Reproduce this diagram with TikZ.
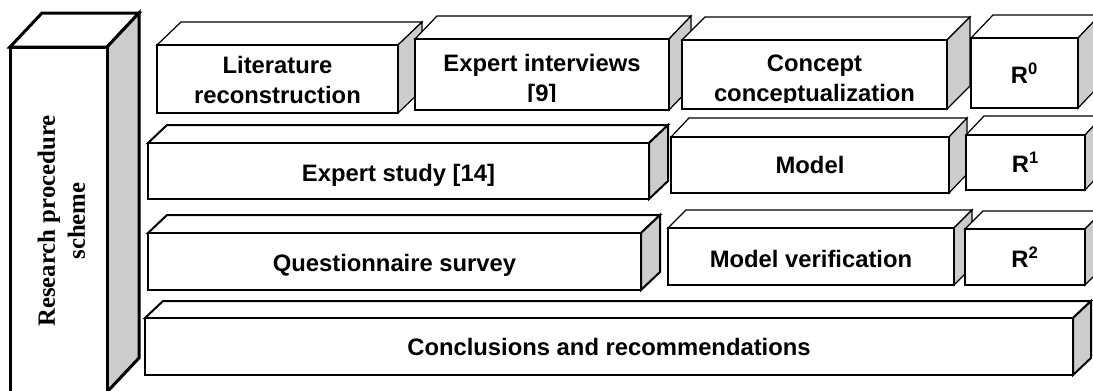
\documentclass[tikz,border=0pt]{standalone}
\usepackage{fontspec}
\setmainfont{Liberation Serif}
\setsansfont{Liberation Sans}
\usepackage{tikz}
\usetikzlibrary{positioning}
\definecolor{sidegray}{rgb}{0.8,0.8,0.8}

% #1 style, #2 left, #3 top, #4 right, #5 bottom, #6 depth x, #7 depth y
\newcommand{\slab}[7]{%
  \draw[#1, fill=white] (#2,#3) -- ++(#6,-#7) -- (#4+#6,#3-#7) -- (#4,#3) -- cycle;
  \draw[#1, fill=sidegray] (#4,#3) -- (#4+#6,#3-#7) -- (#4+#6,#5-#7) -- (#4,#5) -- cycle;
  \draw[#1, fill=white] (#2,#3) rectangle (#4,#5);
}

\begin{document}
\begin{tikzpicture}[x=0.75pt, y=-0.75pt,
    boxthin/.style={line width=0.9pt},
    boxthick/.style={line width=1.5pt},
    boxheavy/.style={line width=2.25pt},
    lbl/.style={font=\sffamily\bfseries\fontsize{17.85}{22.5}\selectfont, align=center}]
  \clip (0,0) rectangle (1093,390);

  % left pillar
  \slab{boxheavy}{10}{47}{107}{392}{32}{34}
  \node (scheme) at (61.5,221) [rotate=90, align=center,
        font=\rmfamily\bfseries\fontsize{18.6}{22.5}\selectfont]
        {Research procedure\\scheme};

  % row 1
  \slab{boxthin}{157}{45}{398}{113}{24}{23}
  \slab{boxthin}{415}{39}{669}{110}{22}{23}
  \slab{boxthin}{682}{40}{947}{109}{23}{23}
  \slab{boxthin}{971}{38}{1078}{108}{22}{23}
  \node (lit) at (277.5,80) [lbl] {Literature\\reconstruction};
  \begin{scope}
    \clip (415,39) rectangle (669,101.5);
    \node (interviews) at (542,80.5) [lbl] {Expert interviews\\{[9]}};
  \end{scope}
  \begin{scope}
    \clip (682,40) rectangle (947,102);
    \node (concept) at (814.5,80.5) [lbl] {Concept\\conceptualization};
  \end{scope}
  \node (r0) at (1024.5,83) [lbl, anchor=base] {R\textsuperscript{0}};

  % row 2
  \slab{boxthick}{148}{143}{649}{199}{19}{18}
  \slab{boxthin}{671}{137}{949}{193}{18}{19}
  \slab{boxthin}{966}{135}{1085}{190}{18}{19}
  \node (study) at (398.5,181) [lbl, anchor=base] {Expert study [14]};
  \node (model) at (810,173) [lbl, anchor=base] {Model};
  \node (r1) at (1025.5,172) [lbl, anchor=base] {R\textsuperscript{1}};

  % row 3
  \slab{boxthick}{148}{233}{641}{290}{19}{18}
  \slab{boxthin}{668}{228}{954}{285}{18}{18}
  \slab{boxthin}{965}{229}{1085}{285}{18}{18}
  \node (survey) at (394.5,271) [lbl, anchor=base] {Questionnaire survey};
  \node (verif) at (811,267) [lbl, anchor=base] {Model verification};
  \node (r2) at (1025,267) [lbl, anchor=base] {R\textsuperscript{2}};

  % row 4
  \slab{boxthick}{145}{318}{1073}{375}{18}{17}
  \node (concl) at (609,355) [lbl, anchor=base] {Conclusions and recommendations};
\end{tikzpicture}
\end{document}
